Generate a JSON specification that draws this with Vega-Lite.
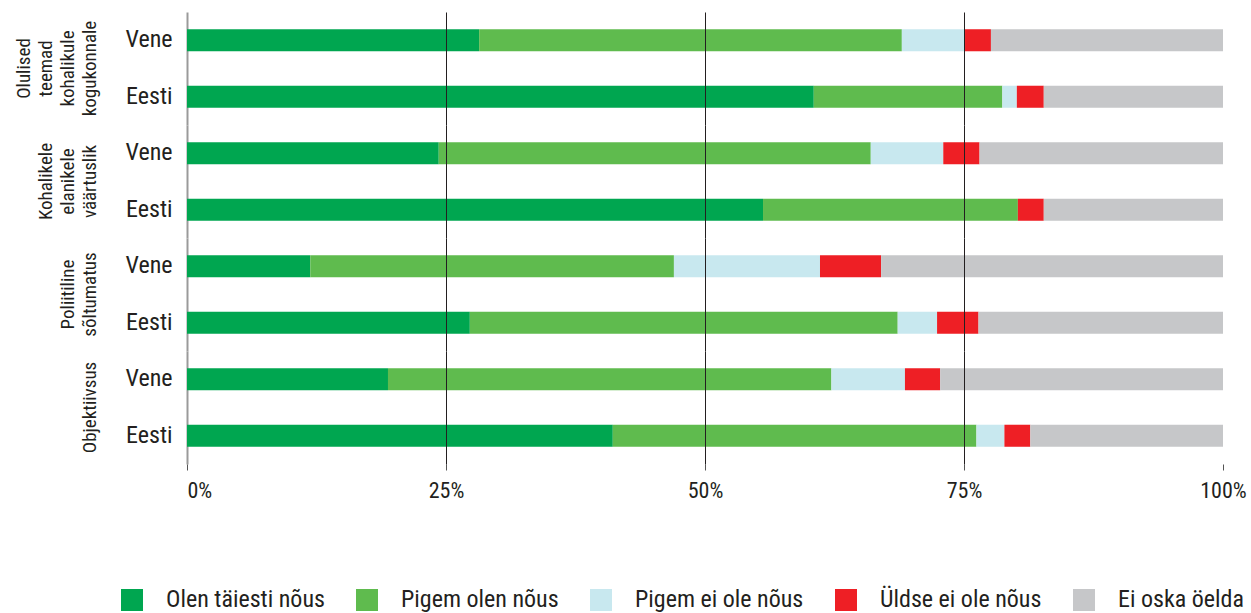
{
  "$schema": "https://vega.github.io/schema/vega-lite/v6.json",
  "padding": {"left": 14, "top": 12, "right": 20, "bottom": 0},
  "data": {"values": [
    {"group": "Olulised teemad kohalikule kogukonnale", "lang": "Vene", "answer": "Olen täiesti nõus", "ord": 1, "value": 28.2},
    {"group": "Olulised teemad kohalikule kogukonnale", "lang": "Vene", "answer": "Pigem olen nõus", "ord": 2, "value": 40.8},
    {"group": "Olulised teemad kohalikule kogukonnale", "lang": "Vene", "answer": "Pigem ei ole nõus", "ord": 3, "value": 6.1},
    {"group": "Olulised teemad kohalikule kogukonnale", "lang": "Vene", "answer": "Üldse ei ole nõus", "ord": 4, "value": 2.5},
    {"group": "Olulised teemad kohalikule kogukonnale", "lang": "Vene", "answer": "Ei oska öelda", "ord": 5, "value": 22.4},
    {"group": "Olulised teemad kohalikule kogukonnale", "lang": "Eesti", "answer": "Olen täiesti nõus", "ord": 1, "value": 60.5},
    {"group": "Olulised teemad kohalikule kogukonnale", "lang": "Eesti", "answer": "Pigem olen nõus", "ord": 2, "value": 18.2},
    {"group": "Olulised teemad kohalikule kogukonnale", "lang": "Eesti", "answer": "Pigem ei ole nõus", "ord": 3, "value": 1.4},
    {"group": "Olulised teemad kohalikule kogukonnale", "lang": "Eesti", "answer": "Üldse ei ole nõus", "ord": 4, "value": 2.6},
    {"group": "Olulised teemad kohalikule kogukonnale", "lang": "Eesti", "answer": "Ei oska öelda", "ord": 5, "value": 17.3},
    {"group": "Kohalikele elanikele väärtuslik", "lang": "Vene", "answer": "Olen täiesti nõus", "ord": 1, "value": 24.3},
    {"group": "Kohalikele elanikele väärtuslik", "lang": "Vene", "answer": "Pigem olen nõus", "ord": 2, "value": 41.7},
    {"group": "Kohalikele elanikele väärtuslik", "lang": "Vene", "answer": "Pigem ei ole nõus", "ord": 3, "value": 7.0},
    {"group": "Kohalikele elanikele väärtuslik", "lang": "Vene", "answer": "Üldse ei ole nõus", "ord": 4, "value": 3.5},
    {"group": "Kohalikele elanikele väärtuslik", "lang": "Vene", "answer": "Ei oska öelda", "ord": 5, "value": 23.5},
    {"group": "Kohalikele elanikele väärtuslik", "lang": "Eesti", "answer": "Olen täiesti nõus", "ord": 1, "value": 55.6},
    {"group": "Kohalikele elanikele väärtuslik", "lang": "Eesti", "answer": "Pigem olen nõus", "ord": 2, "value": 24.6},
    {"group": "Kohalikele elanikele väärtuslik", "lang": "Eesti", "answer": "Pigem ei ole nõus", "ord": 3, "value": 0},
    {"group": "Kohalikele elanikele väärtuslik", "lang": "Eesti", "answer": "Üldse ei ole nõus", "ord": 4, "value": 2.5},
    {"group": "Kohalikele elanikele väärtuslik", "lang": "Eesti", "answer": "Ei oska öelda", "ord": 5, "value": 17.3},
    {"group": "Poliitiline sõltumatus", "lang": "Vene", "answer": "Olen täiesti nõus", "ord": 1, "value": 11.9},
    {"group": "Poliitiline sõltumatus", "lang": "Vene", "answer": "Pigem olen nõus", "ord": 2, "value": 35.1},
    {"group": "Poliitiline sõltumatus", "lang": "Vene", "answer": "Pigem ei ole nõus", "ord": 3, "value": 14.1},
    {"group": "Poliitiline sõltumatus", "lang": "Vene", "answer": "Üldse ei ole nõus", "ord": 4, "value": 5.9},
    {"group": "Poliitiline sõltumatus", "lang": "Vene", "answer": "Ei oska öelda", "ord": 5, "value": 33.0},
    {"group": "Poliitiline sõltumatus", "lang": "Eesti", "answer": "Olen täiesti nõus", "ord": 1, "value": 27.3},
    {"group": "Poliitiline sõltumatus", "lang": "Eesti", "answer": "Pigem olen nõus", "ord": 2, "value": 41.3},
    {"group": "Poliitiline sõltumatus", "lang": "Eesti", "answer": "Pigem ei ole nõus", "ord": 3, "value": 3.8},
    {"group": "Poliitiline sõltumatus", "lang": "Eesti", "answer": "Üldse ei ole nõus", "ord": 4, "value": 4.0},
    {"group": "Poliitiline sõltumatus", "lang": "Eesti", "answer": "Ei oska öelda", "ord": 5, "value": 23.6},
    {"group": "Objektiivsus", "lang": "Vene", "answer": "Olen täiesti nõus", "ord": 1, "value": 19.4},
    {"group": "Objektiivsus", "lang": "Vene", "answer": "Pigem olen nõus", "ord": 2, "value": 42.8},
    {"group": "Objektiivsus", "lang": "Vene", "answer": "Pigem ei ole nõus", "ord": 3, "value": 7.1},
    {"group": "Objektiivsus", "lang": "Vene", "answer": "Üldse ei ole nõus", "ord": 4, "value": 3.4},
    {"group": "Objektiivsus", "lang": "Vene", "answer": "Ei oska öelda", "ord": 5, "value": 27.3},
    {"group": "Objektiivsus", "lang": "Eesti", "answer": "Olen täiesti nõus", "ord": 1, "value": 41.1},
    {"group": "Objektiivsus", "lang": "Eesti", "answer": "Pigem olen nõus", "ord": 2, "value": 35.1},
    {"group": "Objektiivsus", "lang": "Eesti", "answer": "Pigem ei ole nõus", "ord": 3, "value": 2.7},
    {"group": "Objektiivsus", "lang": "Eesti", "answer": "Üldse ei ole nõus", "ord": 4, "value": 2.5},
    {"group": "Objektiivsus", "lang": "Eesti", "answer": "Ei oska öelda", "ord": 5, "value": 18.6}
  ]},
  "facet": {
    "row": {
      "field": "group",
      "type": "nominal",
      "sort": ["Olulised teemad kohalikule kogukonnale", "Kohalikele elanikele väärtuslik", "Poliitiline sõltumatus", "Objektiivsus"],
      "title": null,
      "header": {
        "labelExpr": "split(datum.value, ' ')",
        "labelAngle": -90,
        "labelOrient": "left",
        "labelAlign": "center",
        "labelBaseline": "bottom",
        "labelFontSize": 19,
        "labelLineHeight": 22,
        "labelColor": "#231f20",
        "labelPadding": 6
      }
    }
  },
  "spacing": 0,
  "spec": {
    "width": 1036,
    "height": 113,
    "mark": {"type": "bar"},
    "encoding": {
      "y": {
        "field": "lang",
        "type": "nominal",
        "sort": ["Vene", "Eesti"],
        "title": null,
        "scale": {"paddingInner": 0.61, "paddingOuter": 0.305},
        "axis": {
          "ticks": false,
          "domain": true,
          "domainColor": "#9a9a9a",
          "domainWidth": 2,
          "labelFontSize": 24,
          "labelColor": "#231f20",
          "labelPadding": 15
        }
      },
      "x": {
        "field": "value",
        "type": "quantitative",
        "stack": "normalize",
        "title": null,
        "axis": {
          "values": [0, 0.25, 0.5, 0.75, 1],
          "format": ".0%",
          "domain": false,
          "grid": true,
          "zindex": 1,
          "gridColor": "#231f20",
          "gridWidth": 1,
          "gridOpacity": {"condition": {"test": "datum.value === 0 || datum.value === 1", "value": 0}, "value": 1},
          "tickColor": "#555555",
          "tickSize": 6,
          "labelFlush": false,
          "labelAlign": {"condition": {"test": "datum.value === 0", "value": "left"}, "value": "center"},
          "labelFontSize": 22,
          "labelColor": "#231f20",
          "labelPadding": 10
        }
      },
      "color": {
        "field": "answer",
        "type": "nominal",
        "scale": {
          "domain": ["Olen täiesti nõus", "Pigem olen nõus", "Pigem ei ole nõus", "Üldse ei ole nõus", "Ei oska öelda"],
          "range": ["#00a650", "#5fbb4e", "#c8e8ef", "#ee1f25", "#c6c7c9"]
        },
        "legend": {
          "title": null,
          "orient": "none",
          "direction": "horizontal",
          "legendX": -67,
          "legendY": 576,
          "symbolType": "square",
          "symbolSize": 484,
          "symbolStrokeWidth": 0,
          "symbolOpacity": 1,
          "labelFontSize": 24,
          "labelLimit": 400,
          "labelColor": "#231f20",
          "labelOffset": 22,
          "columnPadding": 30
        }
      },
      "order": {"field": "ord", "type": "quantitative"}
    }
  },
  "config": {
    "view": {"stroke": null},
    "font": "Roboto Condensed, Liberation Sans Narrow, DejaVu Sans Condensed, Roboto, sans-serif"
  }
}
